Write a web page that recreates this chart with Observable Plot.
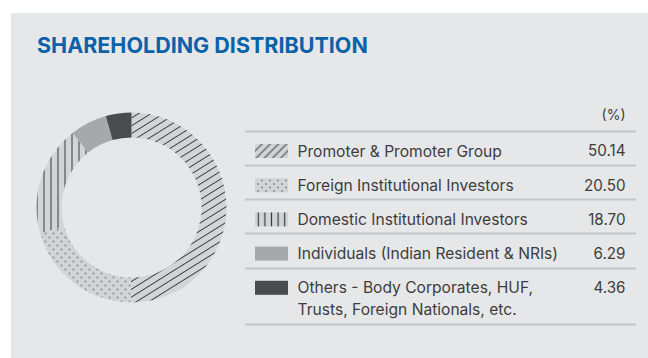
<!DOCTYPE html>
<html><head><meta charset="utf-8">
<script src="https://cdn.jsdelivr.net/npm/d3@7"></script>
<script src="https://cdn.jsdelivr.net/npm/@observablehq/plot@0.6"></script>
<style>
body{margin:0;background:#fff;font-family:Inter,Roboto,"Noto Sans",sans-serif;}
#wrap{position:relative;width:648px;height:358px;overflow:hidden;background:#fff;}
#panel{position:absolute;left:11px;top:13px;width:637px;height:345px;background:#e6e7e9;}
#title{position:absolute;left:37px;top:32px;font:700 21.5px Inter,Roboto,sans-serif;color:#0b62a8;margin:0;letter-spacing:0;line-height:26px;}
#chart{position:absolute;left:0;top:0;}
</style></head><body>
<div id="wrap"><div id="panel"></div><h2 id="title">SHAREHOLDING DISTRIBUTION</h2><div id="chart"></div></div>
<script>
// ---- data ----
const categories = [
  "Promoter & Promoter Group",
  "Foreign Institutional Investors",
  "Domestic Institutional Investors",
  "Individuals (Indian Resident & NRIs)",
  "Others - Body Corporates, HUF,\nTrusts, Foreign Nationals, etc."
];
const values = [50.14, 20.50, 18.70, 6.29, 4.36];
const valueLabels = ["50.14", "20.50", "18.70", "6.29", "4.36"];
const unitLabel = "(%)";

// ---- styling (not data) ----
const donutFills = ["url(#pDiagD)", "url(#pDotsD)", "url(#pVertD)", "#a7a8aa", "#4a4b4d"];
const swatchFills = ["url(#pDiagS)", "url(#pDotsS)", "url(#pVertS)", "#a7a8aa", "#4a4b4d"];
const ringBase = "#d3d4d6";
const cx = 131.5, cy = 207.5, rOuter = 95, rInner = 70;
const rowCenter = i => 151 + i * 34.2;
const ruleYs = [131, 165, 199, 233, 268, 324];
const font = "Inter, Roboto, 'Noto Sans', sans-serif";

const rows = categories.map((c, i) => ({i, category: c, value: values[i], label: valueLabels[i]}));
const lines = rows.flatMap(r => r.category.split("\n").map((t, k) => ({i: r.i, k, t})));

const pie = d3.pie().sort(null).value(d => d.value)(rows);
const arc = d3.arc().innerRadius(rInner).outerRadius(rOuter);

function donut(index, scales) {
  const g = d3.create("svg:g");
  const X = scales.x(cx), Y = scales.y(cy);
  g.attr("transform", `translate(${X},${Y})`);
  g.selectAll("path").data(pie).join("path")
    .attr("d", arc)
    .attr("fill", d => donutFills[d.data.i])
    .attr("stroke", "none");
  return g.node();
}

const plot = Plot.plot({
  width: 648, height: 358,
  margin: 0,
  x: {domain: [0, 648], range: [0, 648], axis: null},
  y: {domain: [0, 358], range: [0, 358], axis: null},
  style: {background: "transparent", fontFamily: font},
  marks: [
    donut,
    Plot.ruleY(ruleYs, {x1: 245, x2: 636, y: d => d, stroke: "#c4c5c7", strokeWidth: 2}),
    Plot.rect(rows, {x1: 255, x2: 288, y1: d => rowCenter(d.i) - 7, y2: d => rowCenter(d.i) + 7, fill: d => swatchFills[d.i]}),
    Plot.text(lines, {x: 297, y: d => rowCenter(d.i) + d.k * 22, text: "t", textAnchor: "start", fontSize: 15.6, fill: "#3d3d3d"}),
    Plot.text(rows, {x: 625, y: d => rowCenter(d.i), text: "label", textAnchor: "end", fontSize: 15.2, fill: "#3d3d3d"}),
    Plot.text([unitLabel], {x: 625, y: 115, text: d => d, textAnchor: "end", fontSize: 14, fill: "#3d3d3d"})
  ]
});

// pattern definitions
const defs = `
<defs>
  <pattern id="pDiagD" patternUnits="userSpaceOnUse" width="12" height="6.6" patternTransform="rotate(-32)">
    <rect width="12" height="6.6" fill="${ringBase}"/>
    <line x1="0" y1="3.3" x2="12" y2="3.3" stroke="#3a3a3a" stroke-width="1"/>
  </pattern>
  <pattern id="pDotsD" patternUnits="userSpaceOnUse" width="8" height="8">
    <rect width="8" height="8" fill="${ringBase}"/>
    <circle cx="2" cy="2" r="0.75" fill="#444"/>
    <circle cx="6" cy="6" r="0.75" fill="#444"/>
  </pattern>
  <pattern id="pVertD" patternUnits="userSpaceOnUse" width="7" height="10">
    <rect width="7" height="10" fill="${ringBase}"/>
    <line x1="3.5" y1="0" x2="3.5" y2="10" stroke="#3a3a3a" stroke-width="1"/>
  </pattern>
  <pattern id="pDiagS" patternUnits="userSpaceOnUse" width="10" height="5.8" patternTransform="rotate(-45)">
    <rect width="10" height="5.8" fill="${ringBase}"/>
    <line x1="0" y1="2.9" x2="10" y2="2.9" stroke="#3a3a3a" stroke-width="1"/>
  </pattern>
  <pattern id="pDotsS" patternUnits="userSpaceOnUse" width="8" height="7">
    <rect width="8" height="7" fill="${ringBase}"/>
    <circle cx="2" cy="2" r="0.7" fill="#444"/>
    <circle cx="6" cy="5.5" r="0.7" fill="#444"/>
  </pattern>
  <pattern id="pVertS" patternUnits="userSpaceOnUse" width="6.6" height="10" x="255">
    <rect width="6.6" height="10" fill="${ringBase}"/>
    <line x1="3.3" y1="0" x2="3.3" y2="10" stroke="#3a3a3a" stroke-width="1.2"/>
  </pattern>
</defs>`;
plot.insertAdjacentHTML("afterbegin", defs);
document.getElementById("chart").appendChild(plot);
</script>
</body></html>
